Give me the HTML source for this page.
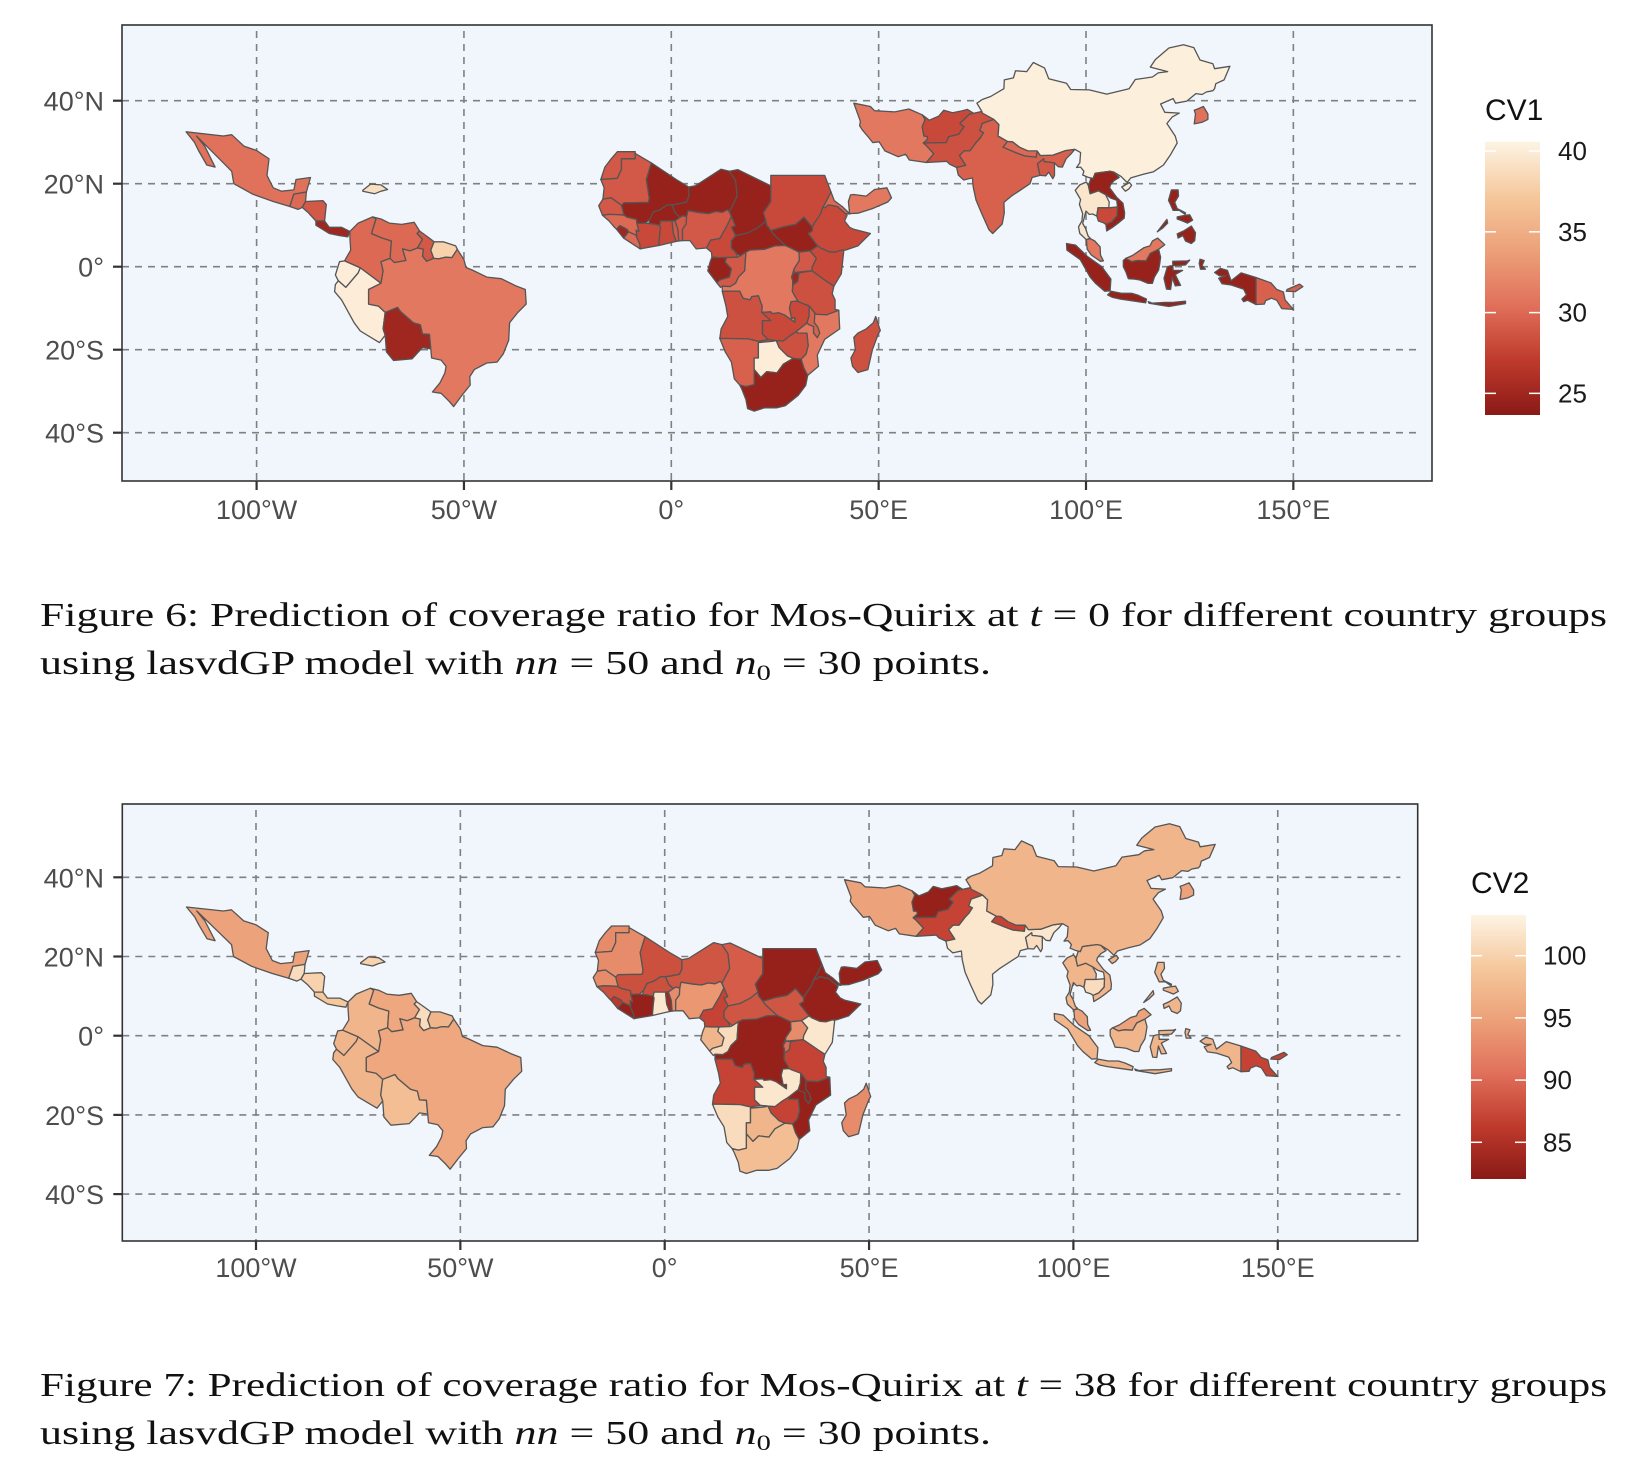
<!DOCTYPE html>
<html><head><meta charset="utf-8"><style>
html,body{margin:0;padding:0;background:#fff;}
svg{display:block;}
</style></head><body>
<svg id="fig" width="1628" height="1460" viewBox="0 0 1628 1460" xmlns="http://www.w3.org/2000/svg">
<rect width="1628" height="1460" fill="#ffffff"/>
<g id="map1"></g>
<g id="map2"></g>
<g font-family="'Liberation Serif', serif" font-size="34" fill="#111">
<text x="40" y="626" textLength="1567" lengthAdjust="spacingAndGlyphs">Figure 6:  Prediction of coverage ratio for Mos-Quirix at <tspan font-style="italic">t</tspan> = 0 for different country groups</text>
<text x="40" y="674" textLength="951" lengthAdjust="spacingAndGlyphs">using lasvdGP model with <tspan font-style="italic">nn</tspan> = 50 and <tspan font-style="italic">n</tspan><tspan font-size="22" dy="6">0</tspan><tspan dy="-6"> = 30 points.</tspan></text>
</g>
<g font-family="'Liberation Serif', serif" font-size="34" fill="#111">
<text x="40" y="1396" textLength="1567" lengthAdjust="spacingAndGlyphs">Figure 7:  Prediction of coverage ratio for Mos-Quirix at <tspan font-style="italic">t</tspan> = 38 for different country groups</text>
<text x="40" y="1444" textLength="951" lengthAdjust="spacingAndGlyphs">using lasvdGP model with <tspan font-style="italic">nn</tspan> = 50 and <tspan font-style="italic">n</tspan><tspan font-size="22" dy="6">0</tspan><tspan dy="-6"> = 30 points.</tspan></text>
</g>
</svg>
<script>
// ---- data ----
const countries = ["Mexico","Guatemala","Honduras-Nicaragua","CostaRica-Panama","Hispaniola","Colombia","Venezuela","Guyana","Suriname","Ecuador","Peru","Bolivia","Brazil",
"WesternSahara","Mauritania","Mali","Niger","Chad","Sudan","SouthSudan","Eritrea","Ethiopia","Senegal","Guinea","SierraLeone","Liberia","CoteDIvoire","BurkinaFaso","Ghana","Togo","Benin","Nigeria","Cameroon","CAR","Gabon","Congo","DRC","Uganda","Kenya","Burundi","Tanzania","Angola","Zambia","Malawi","Mozambique","Zimbabwe","Namibia","Botswana","SouthAfrica","Madagascar","Yemen",
"Iran","Afghanistan","Pakistan","India","Nepal","Bangladesh","China","Korea","Thailand","Vietnam-Laos","Cambodia","Malaysia","Indonesia","Philippines","PNG"];
const cv1Values = [30.5,30,29,25,39,30,30,29,38,40,40,25,31,
29,29,24.5,24.5,24.5,28,24.5,30,28,29,30,25,30,28,24.5,28,29,29,29,28,24.5,24.5,29,31,29,28,25,28.5,28.5,28,29.5,31,28.5,29.5,40,24.5,28.5,31,
31,28,28.5,29.5,30,29,40.2,30.5,39.5,24.5,28,31,24.5,24.5,29.5];
const cv2Values = [95,101,100,99,100,97,95.5,101,97,97,97,98,95.5,
93,93,88,88.5,89,83,88.5,83,83,93,88,86,83,83,88,102,84,93,94,87,88.5,97,101,83,93,102,90,87,87,102,83,83,87,101,97,98,93,83,
95,83,87,102,87,101,97,95,97,97,101,95,97,97,87];
const cv1Ticks = [40,35,30,25];
const cv2Ticks = [100,95,90,85];
const lonTicks = [-100,-50,0,50,100,150];
const lonLabels = ["100°W","50°W","0°","50°E","100°E","150°E"];
const latTicks = [40,20,0,-20,-40];
const latLabels = ["40°N","20°N","0°","20°S","40°S"];

// ---- geometry (lon, lat rings) ----
const shapes = {
"Mexico":[[[-117,32.5],[-108,31.5],[-106,31.8],[-103,29],[-100,28],[-97,26],[-97.5,22],[-96,19],[-94,18.2],[-91,18.5],[-90.5,21],[-87,21.5],[-88,18],[-91,17.5],[-92,14.5],[-96,15.7],[-101,17.5],[-105.5,20],[-106,23],[-109,26],[-112,29],[-114.5,31.5],[-112.5,29],[-110,24],[-112,24.5],[-114,28],[-115,30]]],
"Guatemala":[[[-92,14.5],[-91,17.5],[-88,18],[-88.2,15.7],[-89,14.3],[-90,13.8]]],
"Honduras-Nicaragua":[[[-89,14.3],[-88.2,15.7],[-84,15.9],[-83.2,15],[-83.6,11],[-85.7,11],[-87.5,13]]],
"CostaRica-Panama":[[[-85.7,11],[-83.6,11],[-82.5,9.5],[-79.5,9.5],[-77.5,8.5],[-78,7.2],[-80,7.5],[-82.5,8],[-85.7,10]]],
"Hispaniola":[[[-74.4,18.4],[-72.5,19.9],[-70,19.7],[-68.4,18.6],[-70,18.2],[-71.5,17.6],[-74.4,18.2]]],
"Colombia":[[[-77.5,8.5],[-75.5,10.5],[-72,12],[-71.2,11.5],[-72.3,8],[-70,7],[-67.5,6.2],[-67.8,2],[-70,1.2],[-69.5,-1],[-70,-4],[-72,-2.5],[-75,-0.3],[-78.8,1.4],[-77.3,4],[-77.5,7]]],
"Venezuela":[[[-72,12],[-70,11.5],[-68,10.5],[-65,10.2],[-62,10.7],[-60.7,8.6],[-61.3,8],[-60,6.6],[-61.2,4.5],[-63,3.8],[-64.8,4.3],[-64,1.5],[-66.8,1],[-67.8,2],[-67.5,6.2],[-70,7],[-72.3,8],[-71.2,11.5]]],
"Guyana":[[[-60.7,8.6],[-58.5,7],[-57.2,6],[-58,4],[-57.3,2],[-59,1.3],[-60,2.5],[-59.8,4.2],[-61.2,4.5],[-60,6.6],[-61.3,8]]],
"Suriname":[[[-57.2,6],[-55,6],[-52,5],[-51.6,4.2],[-52.9,2.2],[-54.5,2.3],[-56,1.9],[-57.3,2],[-58,4]]],
"Ecuador":[[[-80,1.2],[-78.8,1.4],[-75,-0.3],[-75.5,-1.5],[-78.5,-5],[-80.3,-3.4],[-81,-2]]],
"Peru":[[[-81,-4.3],[-80.3,-3.4],[-78.5,-5],[-75.5,-1.5],[-75,-0.3],[-72,-2.5],[-70,-4],[-73,-5.5],[-73,-9],[-70.6,-9.5],[-69,-11],[-69.5,-15],[-69,-16.5],[-70.4,-18.3],[-75,-15.5],[-76.5,-13.5],[-79.5,-8],[-81.2,-6]]],
"Bolivia":[[[-69,-11],[-66,-9.8],[-65.3,-10.8],[-62.2,-13.5],[-60.5,-14],[-60,-16.2],[-58.3,-16.3],[-58,-19.8],[-60,-19.5],[-62.5,-22.2],[-67,-22.6],[-68.7,-20.5],[-69,-16.5],[-69.5,-15]]],
"Brazil":[[[-59.8,4.2],[-60,2.5],[-59,1.3],[-57.3,2],[-56,1.9],[-54.5,2.3],[-52.9,2.2],[-51.6,4.2],[-50,1.7],[-49.5,-0.2],[-48,-0.8],[-44.5,-2.5],[-41,-2.9],[-37.5,-4.6],[-35.2,-5.5],[-35,-9],[-37,-11],[-39,-13.5],[-39.2,-17.7],[-40.5,-21],[-42,-23],[-44.5,-23.2],[-47.5,-24.8],[-48.6,-26.5],[-48.5,-28.5],[-50.5,-31],[-52.5,-33.7],[-53.5,-32.5],[-55.5,-30.5],[-57.6,-30.2],[-55.8,-28],[-54.6,-25.6],[-54.3,-24],[-55.5,-22.5],[-57.8,-22],[-58,-19.8],[-58.3,-16.3],[-60,-16.2],[-60.5,-14],[-62.2,-13.5],[-65.3,-10.8],[-66,-9.8],[-69,-11],[-70.6,-9.5],[-73,-9],[-73,-5.5],[-70,-4],[-69.5,-1],[-70,1.2],[-67.8,2],[-66.8,1],[-64,1.5],[-64.8,4.3],[-63,3.8],[-61.2,4.5]]],
"WesternSahara":[[[-17,21],[-13,21.3],[-12,23.5],[-12,26],[-8.7,26],[-8.7,27.7],[-13,27.7],[-14.5,26],[-16,24]]],
"Mauritania":[[[-17,21],[-16.2,19],[-16.5,16.3],[-14.5,16.6],[-12,14.8],[-11.4,15.4],[-5.5,15.5],[-5.3,16.5],[-6,21],[-4.8,25],[-8.7,27.3],[-8.7,26],[-12,26],[-12,23.5],[-13,21.3]]],
"Mali":[[[-12,14.8],[-11.4,15.4],[-5.5,15.5],[-5.3,16.5],[-6,21],[-4.8,25],[1.2,21],[4.2,19.2],[4.2,16.8],[3.6,15.5],[1,15],[0.2,14.9],[-1,14.9],[-2,14.2],[-3,13.6],[-4.3,13.2],[-5.2,11.4],[-6.2,10.5],[-8.3,10.4],[-8.4,11.4],[-10.6,11.9],[-11.4,12.4]]],
"Niger":[[[0.2,14.9],[1,15],[3.6,15.5],[4.2,16.8],[4.2,19.2],[5.8,19.5],[12,23.5],[14,23],[15.1,21.3],[15.5,20.7],[15.9,17],[14,13.2],[13.6,13.7],[12.3,13.1],[10.7,13.3],[9,12.8],[7,13],[4,13.5],[3.7,12],[2.8,12.3],[2.1,11.9],[1,12.9]]],
"Chad":[[[15.5,20.7],[15.1,21.3],[14,23],[16,23.4],[24,19.5],[24,15.7],[22.2,13],[22.8,11],[21,9.5],[18.6,8.2],[15.5,7.5],[14.5,9.5],[15.4,9.9],[14,13.2],[15.9,17]]],
"Sudan":[[[24,19.5],[24,22],[25,22],[37,22],[38.5,18],[37,15],[36.5,14.3],[36,12.7],[34.5,10.5],[34,9.5],[33,10.7],[32,11.9],[30,10.2],[27,9.6],[24,8.7],[23,10],[22.8,11],[22.2,13],[24,15.7]]],
"SouthSudan":[[[24,8.7],[27,9.6],[30,10.2],[32,11.9],[33,10.7],[34,9.5],[34,8.6],[33,8],[35.3,5],[33.5,3.8],[30.8,3.5],[29,4.4],[27.5,5.1],[26,6.5],[24.5,8]]],
"Eritrea":[[[36.5,14.3],[37,15],[38.5,18],[39.3,15.9],[41.2,14.5],[43.1,12.7],[42,12.8],[40,14.5],[37.9,14.9],[37,14.2]]],
"Ethiopia":[[[36.5,14.3],[37,14.2],[37.9,14.9],[40,14.5],[42,12.8],[42.4,12.4],[41.8,11],[43,9.5],[44,9],[48,8],[45,5],[42,4],[41,4],[39.5,3.5],[38,3.6],[36,4.5],[35.3,5],[33,8],[34,8.6],[34,9.5],[34.5,10.5],[36,12.7]]],
"Senegal":[[[-17.5,14.7],[-16.6,12.4],[-15,12.6],[-12.2,12.5],[-11.4,12.4],[-12,14.8],[-14.5,16.6],[-16.5,16.3]]],
"Guinea":[[[-16.6,12.4],[-15,11],[-13.7,9.5],[-13.2,9],[-12.4,9.9],[-10.7,9],[-10.3,8.4],[-8.3,7.5],[-8.5,8.8],[-7.8,8.5],[-8.3,10.4],[-8.4,11.4],[-10.6,11.9],[-11.4,12.4],[-12.2,12.5],[-15,12.6]]],
"SierraLeone":[[[-13.2,9],[-11.5,6.9],[-10.3,8.4],[-10.7,9],[-12.4,9.9]]],
"Liberia":[[[-11.5,6.9],[-7.5,4.3],[-7.6,5.4],[-8.5,7.5],[-8.3,7.5],[-10.3,8.4]]],
"CoteDIvoire":[[[-7.5,4.3],[-3,5.1],[-2.8,7.9],[-2.6,9.5],[-2.8,10],[-4.3,10.3],[-5.4,10.4],[-6.2,10.5],[-8.3,10.4],[-7.8,8.5],[-8.5,8.8],[-8.3,7.5],[-8.5,7.5],[-7.6,5.4]]],
"BurkinaFaso":[[[-5.4,10.4],[-4.3,10.3],[-2.8,10],[-2.6,11],[0,11],[1,11.1],[2.1,11.9],[1,12.9],[0.2,14.9],[-1,14.9],[-2,14.2],[-3,13.6],[-4.3,13.2],[-5.2,11.4]]],
"Ghana":[[[-3,5.1],[1.2,6.1],[0.5,8],[0.2,11],[-2.6,11],[-2.8,10],[-2.6,9.5],[-2.8,7.9]]],
"Togo":[[[1.2,6.1],[1.8,6.2],[1.6,9],[0.9,11],[0.2,11],[0.5,8]]],
"Benin":[[[1.8,6.2],[2.7,6.3],[2.7,9],[3.6,10.3],[3.7,12],[2.8,12.3],[2.1,11.9],[1,11.1],[0.9,11],[1.6,9]]],
"Nigeria":[[[2.7,6.3],[4.5,6.3],[6,4.3],[8.5,4.5],[9.5,6.4],[11.7,6.8],[12.5,8.2],[13.5,10],[14.5,12.1],[14,13.2],[13.6,13.7],[12.3,13.1],[10.7,13.3],[9,12.8],[7,13],[4,13.5],[3.7,12],[3.6,10.3],[2.7,9]]],
"Cameroon":[[[8.5,4.5],[9.7,3.5],[9.8,2.3],[11.3,2.2],[16,2.3],[15.5,3.5],[14.5,4.5],[14.5,6.2],[15.5,7.5],[14.5,9.5],[15.4,9.9],[14,13.2],[14.5,12.1],[13.5,10],[12.5,8.2],[11.7,6.8],[9.5,6.4]]],
"CAR":[[[14.5,4.5],[15.5,3.5],[16.5,2.5],[18,3.5],[19,4],[22.5,4.2],[25,5],[27.5,5.1],[26,6.5],[24.5,8],[24,8.7],[23,10],[22.8,11],[21,9.5],[18.6,8.2],[15.5,7.5],[14.5,6.2]]],
"Gabon":[[[9.3,1],[9.8,2.3],[11.3,2.2],[13.3,2.2],[13,1.1],[14.5,-0.5],[14,-2.5],[11.7,-3.2],[11,-3.9],[8.8,-1]]],
"Congo":[[[11,-3.9],[11.7,-3.2],[14,-2.5],[14.5,-0.5],[13,1.1],[13.3,2.2],[16,2.3],[16.5,2.5],[18,3.5],[17.7,-1],[16.2,-2.5],[15.5,-4],[14.2,-4.8],[12.3,-4.7],[11.9,-5]]],
"DRC":[[[12.3,-6],[12.3,-4.7],[14.2,-4.8],[15.5,-4],[16.2,-2.5],[17.7,-1],[18,3.5],[19,4],[22.5,4.2],[25,5],[27.5,5.1],[29,4.4],[30.8,3.5],[30.9,1.5],[29.6,-0.5],[29,-2.5],[29.3,-3.3],[29.2,-6],[30.5,-8.3],[28.9,-8.4],[28.5,-10],[29,-12.4],[29.8,-12.3],[29.8,-13.4],[27.2,-11.6],[25.9,-11.1],[24.3,-11.3],[24,-10.9],[21.8,-11],[21.9,-9.5],[21,-7],[19.4,-7.2],[19,-8],[17.3,-7.6],[16.5,-5.9],[13,-5.9]]],
"Uganda":[[[30.8,3.5],[33.5,3.8],[35,2],[34,0],[33.9,-1],[29.6,-1.4],[29.6,-0.5],[30.9,1.5]]],
"Kenya":[[[33.5,3.8],[35.3,5],[36,4.5],[38,3.6],[39.5,3.5],[41,4],[41.6,3.9],[41,-1.7],[39.2,-4.7],[37.7,-3.7],[33.9,-1],[34,0],[35,2]]],
"Burundi":[[[29,-2.5],[29.6,-1.4],[30.8,-1.5],[30.5,-3.5],[29.3,-4.4],[29.3,-3.3]]],
"Tanzania":[[[33.9,-1],[37.7,-3.7],[39.2,-4.7],[38.8,-6.5],[39.5,-8],[39.5,-10.3],[40.4,-10.5],[37.5,-11.6],[35,-11.5],[34.6,-11.2],[33.3,-9.5],[31,-8.6],[30.5,-8.3],[29.2,-6],[29.3,-4.4],[30.5,-3.5],[30.8,-1.5]]],
"Angola":[[[12.3,-6],[13,-5.9],[16.5,-5.9],[17.3,-7.6],[19,-8],[19.4,-7.2],[21,-7],[21.9,-9.5],[21.8,-11],[24,-10.9],[24,-13],[22,-13],[22,-16.2],[23.4,-17.6],[21,-18],[18.5,-17.4],[13.5,-17.3],[11.7,-17.3],[12,-15],[13.6,-12],[13.2,-9.5]]],
"Zambia":[[[21.8,-11],[24,-10.9],[24.3,-11.3],[25.9,-11.1],[27.2,-11.6],[29.8,-13.4],[29.8,-12.3],[29,-12.4],[28.5,-10],[28.9,-8.4],[30.5,-8.3],[31,-8.6],[33.3,-9.5],[33.2,-12],[32.7,-13.6],[30.2,-15.6],[28.8,-16.5],[27,-17.9],[25.3,-17.8],[23.4,-17.6],[22,-16.2],[22,-13],[24,-13]]],
"Malawi":[[[33.3,-9.5],[34.6,-11.2],[34.5,-13.5],[35.3,-14.5],[35.8,-16],[35.2,-17.1],[34.3,-16],[34.3,-14.4],[33.2,-14],[32.7,-13.6],[33.2,-12]]],
"Mozambique":[[[34.6,-11.2],[35,-11.5],[37.5,-11.6],[40.4,-10.5],[40.6,-15],[37,-17.5],[35.2,-21.3],[35.5,-24],[32.9,-26.2],[32,-24.5],[31.3,-22.3],[32.5,-21],[33,-19],[32.7,-16],[30.4,-16],[30.2,-15.6],[32.7,-13.6],[33.2,-14],[34.3,-14.4],[34.3,-16],[35.2,-17.1],[35.8,-16],[35.3,-14.5],[34.5,-13.5]]],
"Zimbabwe":[[[25.3,-17.8],[27,-17.9],[28.8,-16.5],[30.2,-15.6],[30.4,-16],[32.7,-16],[33,-19],[32.5,-21],[31.3,-22.3],[29.4,-22.1],[28,-21.5],[26,-19.5]]],
"Namibia":[[[11.7,-17.3],[13.5,-17.3],[18.5,-17.4],[21,-18],[23.4,-17.6],[25.3,-17.8],[24.3,-18],[21,-18.3],[21,-22],[20,-22],[20,-24.8],[20,-28.4],[18,-28.9],[16.5,-28.5],[15.2,-27],[14.5,-23],[13,-20.5]]],
"Botswana":[[[21,-18.3],[24.3,-18],[25.3,-17.8],[26,-19.5],[28,-21.5],[29.4,-22.1],[27,-23.5],[25.5,-25.6],[23,-25.3],[21.6,-26.7],[20,-24.8],[20,-22],[21,-22]]],
"SouthAfrica":[[[16.5,-28.5],[18,-28.9],[20,-28.4],[20,-24.8],[21.6,-26.7],[23,-25.3],[25.5,-25.6],[27,-23.5],[29.4,-22.1],[31.3,-22.3],[32,-24.5],[32.9,-26.2],[32.4,-28.6],[30.6,-31],[27.5,-33.5],[25.5,-34],[22.5,-34],[20,-34.8],[18.4,-34.2],[18,-32],[17,-29.5]]],
"Madagascar":[[[49.3,-12],[50.4,-15.4],[50,-16],[48.5,-20],[47.4,-24.8],[45,-25.5],[43.7,-24],[43.3,-22],[44.4,-20],[44,-17],[45,-16],[47,-15],[48.7,-13.5]]],
"Yemen":[[[42.7,15.7],[43,12.8],[45,12.9],[48.5,14],[52.2,15.6],[53.1,16.6],[52,19],[49,18.6],[47,17],[44,17.4],[43.2,17.3]]],
"Iran":[[[44,39.4],[48,38.6],[49,37.6],[53.9,37.3],[57.3,38],[60.5,36.6],[61.2,35.5],[60.5,33.7],[60.9,31.5],[61.7,31.4],[61.8,30.7],[60.8,29.8],[61.4,29.3],[63.3,27.2],[62.8,26.6],[61.5,25.1],[57.4,25.7],[56.5,27.1],[54.7,26.5],[51.5,27.9],[50.1,30.1],[48.6,29.9],[47.7,31],[46,33],[45.4,34],[45.6,35],[44.8,37.2]]],
"Afghanistan":[[[60.5,36.6],[61.2,35.5],[60.5,33.7],[60.9,31.5],[61.7,31.4],[61.8,30.7],[60.8,29.8],[66.3,29.9],[66.9,31.3],[69.3,31.9],[70.6,33.7],[69.6,34.5],[71.2,36.1],[71.8,36.7],[74.9,37.4],[73,36.9],[71.4,37.9],[70.2,37.6],[67.8,37.1],[65.7,37.7],[64.5,36.3],[62.2,35.3]]],
"Pakistan":[[[60.8,29.8],[66.3,29.9],[66.9,31.3],[69.3,31.9],[70.6,33.7],[69.6,34.5],[71.2,36.1],[71.8,36.7],[74.9,37.4],[77.8,35.5],[75,34.5],[74.4,32.8],[75.3,32.3],[74.5,31],[73.5,29.9],[72,27.9],[70.6,27.9],[69.5,26.8],[71,24.4],[68.8,23.9],[67.1,24.7],[66.4,25.4],[61.5,25.1],[62.8,26.6],[63.3,27.2],[61.4,29.3]]],
"India":[[[68.8,23.9],[71,24.4],[69.5,26.8],[70.6,27.9],[72,27.9],[73.5,29.9],[74.5,31],[75.3,32.3],[74.4,32.8],[75,34.5],[77.8,35.5],[79,34.3],[78.8,31.5],[81.1,30.2],[80,28.8],[83.3,27.4],[85.2,26.7],[88,26.4],[88.2,27.9],[89,26.8],[92,26.9],[95.1,28],[97.3,28.3],[96.5,27.3],[95.2,26],[94.3,24],[93.3,24.1],[92.4,25],[91,25.2],[89.9,25.3],[89.8,26],[88.3,24.8],[88.9,22],[87,21.5],[86.5,20],[82,17],[80.2,15.5],[80.3,13],[79.8,10.3],[77.5,8],[76.6,8.9],[74.9,12.7],[73.5,16],[72.8,19.2],[72.6,21.4],[70.5,20.9],[69.2,22.1]]],
"Nepal":[[[80,28.8],[81.1,30.2],[82.3,30.1],[84,28.8],[86,27.9],[88.2,27.9],[88,26.4],[85.2,26.7],[83.3,27.4]]],
"Bangladesh":[[[88.3,24.8],[89.8,26],[89.9,25.3],[91,25.2],[92.4,25],[92.4,22],[92,21.2],[91,22.8],[90.3,21.9],[88.9,22]]],
"China":[[[73.7,39.4],[75,40.3],[77,41],[80.2,42.9],[80.3,45],[82.5,45.5],[83,47.2],[85.7,47],[87.3,49.2],[90,47.9],[91,45.3],[95.3,44.2],[96.3,42.7],[100.8,42.6],[105,41.6],[110.4,42.9],[111.9,45.1],[116,45.7],[117.4,46.7],[119.7,47],[115.5,48.1],[116.7,49.9],[120,52.7],[123.5,53.5],[126,52.8],[127.5,49.8],[130.6,48.9],[131,47.7],[134.7,48.3],[133.3,45],[131.3,44.1],[131,42.9],[130.6,42.4],[129,42.1],[128,41.5],[126.5,41.7],[124.3,39.9],[121.6,39.4],[121,40.5],[118,39.2],[119,37.2],[122.5,37],[120.8,36.1],[119.5,34.5],[121.5,31.5],[122,29.8],[120.4,27],[118.7,24.5],[116.3,22.9],[113.5,22.2],[110.8,21.4],[109.9,20.3],[108.5,21.7],[106.7,22.8],[105.8,23],[103.5,22.7],[102.2,22.5],[101.7,21.2],[100.4,21.6],[99.2,22.1],[99.5,23],[98.7,24],[97.7,23.9],[98.5,25],[98.7,27.5],[97.3,28.3],[95.1,28],[92,26.9],[89,26.8],[88.2,27.9],[86,27.9],[84,28.8],[82.3,30.1],[81.1,30.2],[78.8,31.5],[79,34.3],[77.8,35.5],[75,37],[74.9,37.4]],[[108.6,19.2],[110.5,20.3],[111,19.6],[110.3,18.7],[109.5,18.2]]],
"Korea":[[[126.1,34.4],[126.4,36.8],[126.1,37.7],[126.9,38],[128.3,38.6],[129.4,36.8],[129.4,35.5],[128,34.8]]],
"Thailand":[[[97.4,18.4],[98.5,19.7],[100.1,20.4],[100.6,19.5],[101,17.6],[103,18.3],[104.7,17.4],[105.6,15.6],[105.5,14.2],[102.9,14.2],[102.6,12.2],[101.6,12.7],[100.8,12.6],[100,13.4],[99.2,10.4],[99.9,9.2],[100.5,7.4],[101,6.9],[100.1,6.5],[98.5,8],[98.2,9.6],[99,11],[99.2,12.8],[98.4,15],[98.7,16.2]]],
"Vietnam-Laos":[[[102.2,22.5],[103.5,22.7],[105.8,23],[106.7,22.8],[108,21.5],[106.7,20.7],[105.9,19.7],[105.7,19],[107.4,16.7],[108.9,15.3],[109.3,13],[109.2,11.7],[108,10.7],[106.4,9.5],[105,8.6],[104.8,10.2],[106.2,10.8],[107.5,12.3],[107.6,14.4],[107.4,16],[106,16.5],[104.7,17.4],[103,18.3],[101,17.6],[100.6,19.5],[101.2,21.4],[101.7,21.2]]],
"Cambodia":[[[102.6,12.2],[103,11],[104.2,10.6],[104.8,10.2],[106.2,10.8],[107.5,12.3],[107.6,14.4],[105.5,14.2],[102.9,14.2]]],
"Malaysia":[[[100.1,6.5],[101,6.8],[102.1,6.2],[103.4,4.8],[103.5,2.8],[104.2,1.4],[103.5,1.3],[101.3,2.8],[100.3,4.2]],[[109.6,2],[111,1.2],[112.5,1.5],[114.5,1.4],[115.5,3.2],[117.5,4.2],[119,5.3],[117.3,6.9],[116,6.2],[115.4,5],[114,4.6],[111.2,2.7]]],
"Indonesia":[[[95.3,5.6],[97.5,5.2],[100.3,2.5],[103.8,0],[106,-3],[105.8,-5.8],[104.5,-5.9],[102.3,-4],[101,-2.5],[98.6,1.7],[95.4,4]],[[105.2,-6.8],[106.1,-5.9],[108.5,-6.4],[111,-6.4],[112.6,-6.9],[114.6,-7.8],[114.4,-8.7],[111,-8.2],[108.3,-7.8],[106.4,-7.4]],[[115,-8.4],[116,-8.8],[119,-8.6],[121,-8.6],[124,-8.3],[124,-8.9],[120,-9.6],[117,-9.1],[115.2,-8.8]],[[109,1.5],[109.6,2],[111,1.2],[112.5,1.5],[114.5,1.4],[115.5,3.2],[117.5,4.2],[118,2.3],[117.8,0.8],[117.5,-0.8],[116.5,-2.5],[116,-4],[114.9,-4],[113,-3.2],[111.7,-3],[110.2,-2.9],[109.6,-1.2],[109,0]],[[119.4,-5.4],[120.4,-5.5],[120.8,-2.6],[121.5,-4.6],[122.8,-4.5],[121.5,-1.9],[123.3,-0.9],[121,-0.9],[120.9,1.3],[124.4,1.4],[125,1.6],[124,0.4],[120.2,0.2],[119.6,-0.1],[118.8,-2.8]],[[127.5,1.8],[128.5,1.5],[128,0.3],[128.8,-0.6],[127.6,-0.6],[127.3,0.8]],[[131,-1.4],[132.4,-0.4],[134.1,-0.9],[135,-3.4],[137.4,-1.5],[141,-2.6],[141,-9.1],[139,-8.1],[138,-8.4],[137.6,-7.8],[138.7,-6.8],[138,-5.4],[135,-4.4],[132.8,-4.1],[132,-2.8],[133.7,-2.2],[132.2,-2.2]]],
"Philippines":[[[120.6,18.5],[122.2,18.5],[122.3,17],[121.4,15.5],[122,14],[124,13],[123.9,12.6],[122.5,13.6],[121,13.6],[120.6,14.5],[119.9,16]],[[122,7.9],[123.5,8.6],[125.4,9.8],[126.4,8.2],[126.2,6.3],[125.4,5.6],[124,6.2],[123.4,7.5],[122.2,6.9]],[[122,11.5],[123.3,11],[124.5,10.5],[125.7,11.2],[125,12.5],[124,12.4],[122,12]],[[117.2,8.4],[119.5,11.4],[119.7,10.5],[118.5,9.3]]],
"PNG":[[[141,-2.6],[144.6,-3.9],[146,-5.5],[147.6,-6.1],[148,-8],[150,-10.3],[147.2,-10.1],[146,-8.1],[144.7,-7.6],[143.3,-8.2],[143,-9],[141,-9.1]],[[148.5,-5.5],[151.5,-4.2],[152.3,-4.8],[150.5,-6],[148.3,-5.9]]]
};

// ---- colour scale ----
const palStops = [[0,[138,26,22]],[0.2,[191,58,44]],[0.4,[224,112,90]],[0.6,[236,160,120]],[0.8,[245,200,156]],[1,[253,244,228]]];
function palette(t){
  t = Math.max(0, Math.min(1, t));
  for (let i = 1; i < palStops.length; i++) {
    if (t <= palStops[i][0]) {
      const a = palStops[i-1], b = palStops[i], f = (t - a[0]) / (b[0] - a[0]);
      const c = a[1].map((v, k) => Math.round(v + (b[1][k] - v) * f));
      return 'rgb(' + c.join(',') + ')';
    }
  }
  return 'rgb(253,244,228)';
}

const NS = 'http://www.w3.org/2000/svg';
function mk(tag, attrs, parent){
  const e = document.createElementNS(NS, tag);
  for (const k in attrs) e.setAttribute(k, attrs[k]);
  parent.appendChild(e);
  return e;
}

const panels = [
  {g:'map1', values:cv1Values, title:'CV1', ticks:cv1Ticks, vmin:23.66, vmax:40.58,
   x0:671.3, kx:4.147, y0:266.7, ky:4.15, left:122, top:25, right:1432, bottom:481, xlabY:519,
   legX:1485, legW:55, legTop:141.7, legBot:415, legLabX:1558, titleY:120, gid:'g1'},
  {g:'map2', values:cv2Values, title:'CV2', ticks:cv2Ticks, vmin:82.05, vmax:103.27,
   x0:664.7, kx:4.087, y0:1035.7, ky:3.96, left:122.3, top:804, right:1417.7, bottom:1241, xlabY:1277,
   legX:1471, legW:55, legTop:915, legBot:1179, legLabX:1543, titleY:893, gid:'g2'}
];

panels.forEach(function(P){
  const root = document.getElementById(P.g);
  const xs = lon => P.x0 + lon * P.kx;
  const ys = lat => P.y0 - lat * P.ky;
  const scaleT = v => (v - P.vmin) / (P.vmax - P.vmin);

  const bg = mk('rect', {x:P.left, y:P.top, width:P.right-P.left, height:P.bottom-P.top, fill:'#f1f6fd'}, root);
  
  

  // gridlines
  const grid = mk('g', {stroke:'#808080', 'stroke-width':1.6, 'stroke-dasharray':'7 6', fill:'none'}, root);
  
  
  lonTicks.forEach(function(lon){
    const l = mk('line', {x1:xs(lon), x2:xs(lon), y1:P.top+6, y2:P.bottom}, grid);
    
    
  });
  latTicks.forEach(function(lat){
    const l = mk('line', {x1:P.left, x2:xs(180), y1:ys(lat), y2:ys(lat)}, grid);
    
    
  });

  // countries
  const cg = mk('g', {stroke:'#555', 'stroke-width':1.3, 'stroke-linejoin':'round'}, root);
  
  
  countries.forEach(function(name, i){
    const rings = shapes[name];
    if (!rings) return;
    let d = '';
    rings.forEach(function(r){
      d += r.map((p, j) => (j ? 'L' : 'M') + xs(p[0]).toFixed(1) + ',' + ys(p[1]).toFixed(1)).join('') + 'Z';
    });
    const path = mk('path', {d:d, fill:palette(scaleT(P.values[i]))}, cg);
    
    
  });

  // frame
  const fr = mk('rect', {x:P.left, y:P.top, width:P.right-P.left, height:P.bottom-P.top, fill:'none', stroke:'#333', 'stroke-width':1.6}, root);
  
  

  // axes
  const ax = mk('g', {'font-family':"'Liberation Sans', sans-serif", 'font-size':27, fill:'#4d4d4d'}, root);
  
  
  lonTicks.forEach(function(lon, i){
    const t = mk('line', {x1:xs(lon), x2:xs(lon), y1:P.bottom, y2:P.bottom+9, stroke:'#333', 'stroke-width':2.2}, ax);
    
    
    const tx = mk('text', {x:xs(lon), y:P.xlabY, 'text-anchor':'middle'}, ax);
    tx.textContent = lonLabels[i];
    
    
  });
  latTicks.forEach(function(lat, i){
    const t = mk('line', {x1:P.left-9, x2:P.left, y1:ys(lat), y2:ys(lat), stroke:'#333', 'stroke-width':2.2}, ax);
    
    
    const tx = mk('text', {x:104, y:ys(lat)+10, 'text-anchor':'end'}, ax);
    tx.textContent = latLabels[i];
    
    
  });

  // legend
  const lg = mk('g', {}, root);
  
  
  const defs = mk('defs', {}, lg);
  const grad = mk('linearGradient', {id:P.gid, x1:0, y1:1, x2:0, y2:0}, defs);
  for (let k = 0; k <= 20; k++) {
    mk('stop', {offset:(k/20), 'stop-color':palette(k/20)}, grad);
  }
  const ttl = mk('text', {x:P.legX, y:P.titleY, 'font-family':"'Liberation Sans', sans-serif", 'font-size':30, fill:'#111'}, lg);
  ttl.textContent = P.title;
  
  
  const bar = mk('rect', {x:P.legX, y:P.legTop, width:P.legW, height:P.legBot-P.legTop, fill:'url(#' + P.gid + ')'}, lg);
  
  
  const ly = v => P.legBot - (v - P.vmin) / (P.vmax - P.vmin) * (P.legBot - P.legTop);
  P.ticks.forEach(function(v){
    const a = mk('line', {x1:P.legX, x2:P.legX+11, y1:ly(v), y2:ly(v), stroke:'#fff', 'stroke-width':1.5}, lg);
    
    
    const b = mk('line', {x1:P.legX+P.legW-11, x2:P.legX+P.legW, y1:ly(v), y2:ly(v), stroke:'#fff', 'stroke-width':1.5}, lg);
    
    
    const tx = mk('text', {x:P.legLabX, y:ly(v)+9, 'font-family':"'Liberation Sans', sans-serif", 'font-size':26, fill:'#1a1a1a'}, lg);
    tx.textContent = String(v);
    
    
  });
});
</script>
</body></html>
